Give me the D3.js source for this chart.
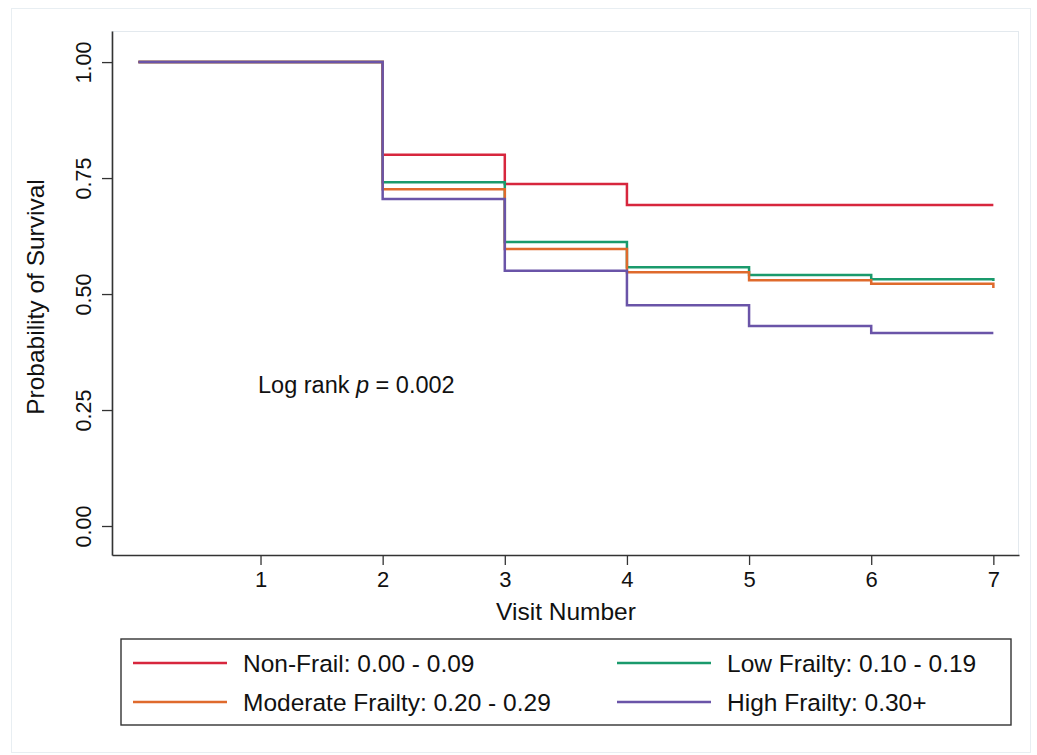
<!DOCTYPE html>
<html>
<head>
<meta charset="utf-8">
<script src="https://cdn.jsdelivr.net/npm/d3@7"></script>
<style>
  body { margin: 0; background: #fff; }
  text { font-family: "Liberation Sans", Arial, Helvetica, sans-serif; fill: #111; }
</style>
</head>
<body>
<script>
// Visit times where the curves step (first point is the start at 0)
var visits = [0, 2, 3, 4, 5, 6, 7];

// Survival estimates per frailty group, one value per visit
var nonFrail = [1.00, 0.800, 0.737, 0.692, 0.692, 0.692, 0.692];
var lowFrailty = [1.00, 0.741, 0.612, 0.558, 0.541, 0.532, 0.528];
var moderateFrailty = [1.00, 0.726, 0.597, 0.547, 0.530, 0.522, 0.513];
var highFrailty = [1.00, 0.705, 0.550, 0.476, 0.431, 0.416, 0.416];

var groupNames = ["Non-Frail: 0.00 - 0.09", "Low Frailty: 0.10 - 0.19",
                  "Moderate Frailty: 0.20 - 0.29", "High Frailty: 0.30+"];
var groupColors = ["#d7263d", "#1a9a6c", "#df6a2c", "#6a54a8"];
var groupValues = [nonFrail, lowFrailty, moderateFrailty, highFrailty];

var xTicks = [1, 2, 3, 4, 5, 6, 7];
var yTicks = [0, 0.25, 0.5, 0.75, 1];

var width = 1037, height = 755;
var plot = {left: 112, right: 1019, top: 31, bottom: 555};

var svg = d3.select("body").append("svg")
    .attr("width", width)
    .attr("height", height);

// Outer graph frame
svg.append("rect")
    .attr("x", 11.5).attr("y", 8.5)
    .attr("width", 1019).attr("height", 744)
    .attr("fill", "none")
    .attr("stroke", "#e8eef2");

// Plot region outline (light)
svg.append("rect")
    .attr("x", plot.left).attr("y", plot.top + 0.5)
    .attr("width", plot.right - plot.left - 0.5)
    .attr("height", plot.bottom - plot.top)
    .attr("fill", "none")
    .attr("stroke", "#e3e9ee");

var xScale = d3.scaleLinear()
    .domain([-0.216, 7.21])
    .range([plot.left, plot.right]);

var yScale = d3.scaleLinear()
    .domain([-0.0625, 1.067])
    .range([plot.bottom, plot.top]);

// Axes
var xAxis = d3.axisBottom(xScale)
    .tickValues(xTicks)
    .tickSize(10)
    .tickPadding(6)
    .tickSizeOuter(0)
    .tickFormat(d3.format("d"));

var yAxis = d3.axisLeft(yScale)
    .tickValues(yTicks)
    .tickSize(10)
    .tickSizeOuter(0)
    .tickFormat(d3.format(".2f"));

var gx = svg.append("g")
    .attr("transform", "translate(0," + plot.bottom + ")")
    .call(xAxis);
gx.select(".domain").attr("stroke", "#333").attr("stroke-width", 1.6);
gx.selectAll(".tick line").attr("stroke", "#333").attr("stroke-width", 1.3);
gx.selectAll(".tick text")
    .attr("font-size", 22)
    .attr("fill", "#111")
    .style("font-family", "'Liberation Sans', Arial, sans-serif");

var gy = svg.append("g")
    .attr("transform", "translate(" + plot.left + ",0)")
    .call(yAxis);
gy.select(".domain").attr("stroke", "#333").attr("stroke-width", 1.6);
gy.selectAll(".tick line").attr("stroke", "#333").attr("stroke-width", 1.3);
gy.selectAll(".tick text")
    .attr("font-size", 21.5)
    .attr("fill", "#111")
    .attr("x", null).attr("dy", null)
    .attr("text-anchor", "middle")
    .attr("transform", "translate(-21,0) rotate(-90)")
    .style("font-family", "'Liberation Sans', Arial, sans-serif");

// Axis titles
svg.append("text")
    .attr("x", 566)
    .attr("y", 620)
    .attr("text-anchor", "middle")
    .attr("font-size", 24.5)
    .text("Visit Number");

svg.append("text")
    .attr("transform", "translate(44,297) rotate(-90)")
    .attr("text-anchor", "middle")
    .attr("font-size", 24.5)
    .text("Probability of Survival");

// Survival step curves
var line = d3.line()
    .x(function(d) { return xScale(d[0]); })
    .y(function(d) { return yScale(d[1]); })
    .curve(d3.curveStepAfter);

var last = visits.length - 1;

// red first, purple last (on top), as in the reference
groupValues.forEach(function(vals, i) {
    var pts = [];
    for (var j = 0; j < last; j++) pts.push([visits[j], vals[j]]);
    // run to the last visit at the previous level, then drop
    pts.push([visits[last], vals[last - 1]]);
    pts.push([visits[last], vals[last]]);
    svg.append("path")
        .attr("d", line(pts))
        .attr("fill", "none")
        .attr("stroke", groupColors[i])
        .attr("stroke-width", 2.5);
});

// Annotation
var note = svg.append("text")
    .attr("x", 258)
    .attr("y", 393)
    .attr("font-size", 23.5);
note.append("tspan").text("Log rank ");
note.append("tspan").attr("font-style", "italic").text("p");
note.append("tspan").text(" = 0.002");

// Legend
var legend = svg.append("g");
legend.append("rect")
    .attr("x", 121).attr("y", 639)
    .attr("width", 890).attr("height", 86)
    .attr("fill", "#fff")
    .attr("stroke", "#333")
    .attr("stroke-width", 1.4);

var legendPos = [
    {x: 133, y: 663}, {x: 617, y: 663},
    {x: 133, y: 702}, {x: 617, y: 702}
];

legendPos.forEach(function(p, i) {
    legend.append("line")
        .attr("x1", p.x).attr("x2", p.x + 94)
        .attr("y1", p.y).attr("y2", p.y)
        .attr("stroke", groupColors[i])
        .attr("stroke-width", 2.5);
    legend.append("text")
        .attr("x", p.x + 110)
        .attr("y", p.y + 8.5)
        .attr("font-size", 24.5)
        .text(groupNames[i]);
});
</script>
</body>
</html>
